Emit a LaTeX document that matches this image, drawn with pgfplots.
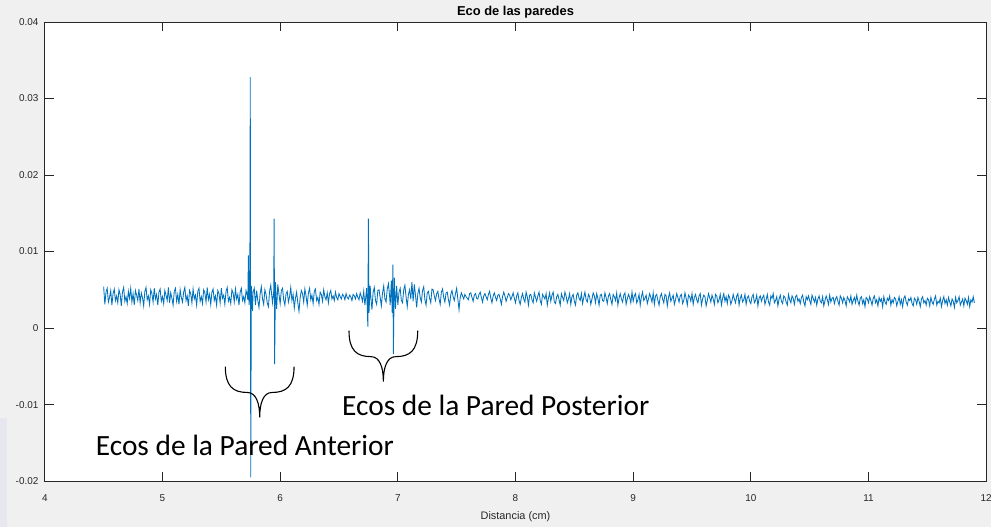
\documentclass[border=0pt]{standalone}
\usepackage{pgfplots}
\usepackage{pgfplotstable}
\pgfplotsset{compat=1.18}
\usepackage{fontspec}
\setmainfont{Liberation Sans}
\newfontfamily\notefont{Carlito}

\definecolor{figbg}{HTML}{F0F0F0}
\definecolor{edgebg}{HTML}{E7E7EF}
\definecolor{axgray}{HTML}{262626}
\definecolor{sig}{HTML}{0072BD}

% Echo amplitude versus depth
\pgfplotstableread{
x y
4.50 0.0054
4.51 0.0031
4.52 0.0047
4.53 0.0052
4.54 0.0034
4.55 0.0040
4.56 0.0049
4.57 0.0030
4.58 0.0045
4.59 0.0051
4.60 0.0036
4.61 0.0042
4.62 0.0033
4.63 0.0050
4.64 0.0044
4.65 0.0029
4.66 0.0047
4.67 0.0053
4.68 0.0035
4.69 0.0041
4.70 0.0032
4.71 0.0048
4.72 0.0039
4.73 0.0052
4.74 0.0034
4.75 0.0045
4.76 0.0030
4.77 0.0049
4.78 0.0043
4.79 0.0036
4.80 0.0051
4.81 0.0033
4.82 0.0046
4.83 0.0040
4.84 0.0029
4.85 0.0048
4.86 0.0053
4.87 0.0037
4.88 0.0042
4.89 0.0031
4.90 0.0050
4.91 0.0045
4.92 0.0034
4.93 0.0052
4.94 0.0038
4.95 0.0044
4.96 0.0030
4.97 0.0047
4.98 0.0051
4.99 0.0035
5.00 0.0041
5.01 0.0032
5.02 0.0049
5.03 0.0043
5.04 0.0036
5.05 0.0053
5.06 0.0033
5.07 0.0046
5.08 0.0039
5.09 0.0030
5.10 0.0048
5.11 0.0052
5.12 0.0035
5.13 0.0044
5.14 0.0031
5.15 0.0050
5.16 0.0040
5.17 0.0034
5.18 0.0047
5.19 0.0053
5.20 0.0036
5.21 0.0042
5.22 0.0029
5.23 0.0049
5.24 0.0045
5.25 0.0033
5.26 0.0051
5.27 0.0038
5.28 0.0043
5.29 0.0030
5.30 0.0048
5.31 0.0052
5.32 0.0035
5.33 0.0041
5.34 0.0032
5.35 0.0050
5.36 0.0046
5.37 0.0034
5.38 0.0053
5.39 0.0037
5.40 0.0044
5.41 0.0031
5.42 0.0047
5.43 0.0051
5.44 0.0036
5.45 0.0042
5.46 0.0030
5.47 0.0049
5.48 0.0045
5.49 0.0033
5.50 0.0052
5.51 0.0039
5.52 0.0043
5.53 0.0031
5.54 0.0048
5.55 0.0053
5.56 0.0035
5.57 0.0040
5.58 0.0032
5.59 0.0050
5.60 0.0046
5.61 0.0034
5.62 0.0051
5.63 0.0038
5.64 0.0044
5.65 0.0030
5.66 0.0047
5.67 0.0052
5.68 0.0036
5.69 0.0041
5.70 0.0033
5.71 0.0049
5.72 0.0043
5.725 0.0037
5.730 0.0095
5.735 0.0030
5.742 0.0040
5.746 0.0328
5.750 -0.0195
5.755 0.0055
5.760 0.0040
5.765 0.0022
5.77 0.0047
5.78 0.0052
5.79 0.0030
5.80 0.0049
5.81 0.0036
5.82 0.0027
5.83 0.0045
5.84 0.0054
5.85 0.0038
5.86 0.0031
5.87 0.0050
5.88 0.0044
5.89 0.0033
5.90 0.0028
5.91 0.0048
5.92 0.0056
5.93 0.0040
5.935 0.0033
5.945 0.0048
5.949 0.0143
5.953 -0.0047
5.960 0.0060
5.965 0.0041
5.97 0.0025
5.98 0.0057
5.99 0.0044
6.00 0.0032
6.01 0.0049
6.02 0.0052
6.03 0.0037
6.04 0.0030
6.05 0.0045
6.06 0.0048
6.07 0.0034
6.08 0.0041
6.09 0.0053
6.10 0.0036
6.11 0.0044
6.12 0.0026
6.13 0.0039
6.14 0.0047
6.15 0.0033
6.16 0.0022
6.17 0.0040
6.18 0.0049
6.19 0.0045
6.20 0.0034
6.21 0.0051
6.22 0.0042
6.23 0.0030
6.24 0.0046
6.25 0.0052
6.26 0.0037
6.27 0.0043
6.28 0.0032
6.29 0.0048
6.30 0.0051
6.31 0.0036
6.32 0.0040
6.33 0.0031
6.34 0.0047
6.35 0.0044
6.36 0.0035
6.37 0.0050
6.38 0.0041
6.39 0.0037
6.40 0.0046
6.41 0.0033
6.42 0.0045
6.43 0.0049
6.44 0.0038
6.45 0.0042
6.46 0.0036
6.47 0.0047
6.48 0.0040
6.49 0.0037
6.50 0.0045
6.51 0.0041
6.52 0.0038
6.53 0.0044
6.54 0.0042
6.55 0.0037
6.56 0.0045
6.57 0.0040
6.58 0.0038
6.59 0.0043
6.60 0.0041
6.61 0.0036
6.62 0.0044
6.63 0.0042
6.64 0.0038
6.65 0.0045
6.66 0.0040
6.67 0.0037
6.68 0.0046
6.69 0.0041
6.70 0.0035
6.71 0.0048
6.72 0.0030
6.73 0.0044
6.735 0.0052
6.745 0.0002
6.750 0.0143
6.755 0.0020
6.760 0.0038
6.765 0.0055
6.77 0.0042
6.78 0.0024
6.79 0.0047
6.80 0.0053
6.81 0.0036
6.82 0.0031
6.83 0.0049
6.84 0.0050
6.85 0.0040
6.86 0.0029
6.87 0.0046
6.88 0.0055
6.89 0.0038
6.90 0.0034
6.91 0.0051
6.92 0.0058
6.93 0.0042
6.935 0.0030
6.945 0.0062
6.952 0.0020
6.958 0.0083
6.962 -0.0034
6.970 0.0066
6.975 0.0045
6.98 0.0025
6.99 0.0055
7.00 0.0030
7.01 0.0047
7.02 0.0052
7.03 0.0036
7.04 0.0033
7.05 0.0050
7.06 0.0056
7.07 0.0041
7.08 0.0028
7.09 0.0044
7.10 0.0050
7.11 0.0038
7.12 0.0060
7.13 0.0035
7.14 0.0057
7.15 0.0043
7.16 0.0027
7.17 0.0045
7.18 0.0052
7.19 0.0040
7.20 0.0034
7.21 0.0049
7.22 0.0054
7.23 0.0037
7.24 0.0030
7.25 0.0046
7.26 0.0048
7.27 0.0039
7.28 0.0033
7.29 0.0051
7.30 0.0050
7.31 0.0042
7.32 0.0036
7.33 0.0045
7.34 0.0048
7.35 0.0038
7.36 0.0031
7.37 0.0047
7.38 0.0051
7.39 0.0040
7.40 0.0034
7.41 0.0046
7.42 0.0047
7.43 0.0037
7.44 0.0030
7.45 0.0044
7.46 0.0049
7.47 0.0041
7.48 0.0036
7.49 0.0045
7.50 0.0052
7.51 0.0038
7.52 0.0024
7.53 0.0040
7.54 0.0046
7.55 0.0042
7.56 0.0038
7.57 0.0044
7.58 0.0041
7.59 0.0039
7.60 0.0037
7.61 0.0045
7.62 0.0046
7.63 0.0040
7.64 0.0035
7.65 0.0043
7.66 0.0045
7.67 0.0039
7.68 0.0038
7.69 0.0044
7.70 0.0047
7.71 0.0040
7.72 0.0034
7.73 0.0042
7.74 0.0045
7.75 0.0041
7.76 0.0037
7.77 0.0044
7.78 0.0048
7.79 0.0039
7.80 0.0033
7.81 0.0042
7.82 0.0046
7.83 0.0040
7.84 0.0036
7.85 0.0043
7.86 0.0044
7.87 0.0038
7.88 0.0031
7.89 0.0041
7.90 0.0047
7.91 0.0042
7.92 0.0035
7.93 0.0040
7.94 0.0045
7.95 0.0043
7.96 0.0037
7.97 0.0041
7.98 0.0046
7.99 0.0039
8.00 0.0033
8.01 0.0042
8.02 0.0046
8.03 0.0036
8.04 0.0031
8.05 0.0040
8.06 0.0045
8.07 0.0038
8.08 0.0034
8.09 0.0047
8.10 0.0041
8.11 0.0030
8.12 0.0043
8.13 0.0044
8.14 0.0037
8.15 0.0033
8.16 0.0046
8.17 0.0040
8.18 0.0035
8.19 0.0042
8.20 0.0047
8.21 0.0036
8.22 0.0031
8.23 0.0044
8.24 0.0041
8.25 0.0038
8.26 0.0045
8.27 0.0030
8.28 0.0039
8.29 0.0046
8.30 0.0035
8.31 0.0043
8.32 0.0047
8.33 0.0034
8.34 0.0032
8.35 0.0041
8.36 0.0044
8.37 0.0037
8.38 0.0030
8.39 0.0045
8.40 0.0040
8.41 0.0036
8.42 0.0047
8.43 0.0042
8.44 0.0033
8.45 0.0038
8.46 0.0045
8.47 0.0031
8.48 0.0041
8.49 0.0044
8.50 0.0035
8.51 0.0030
8.52 0.0043
8.53 0.0046
8.54 0.0039
8.55 0.0036
8.56 0.0045
8.57 0.0032
8.58 0.0040
8.59 0.0047
8.60 0.0037
8.61 0.0034
8.62 0.0044
8.63 0.0041
8.64 0.0031
8.65 0.0038
8.66 0.0046
8.67 0.0042
8.68 0.0033
8.69 0.0045
8.70 0.0039
8.71 0.0030
8.72 0.0043
8.73 0.0044
8.74 0.0036
8.75 0.0035
8.76 0.0046
8.77 0.0040
8.78 0.0032
8.79 0.0042
8.80 0.0045
8.81 0.0037
8.82 0.0031
8.83 0.0044
8.84 0.0041
8.85 0.0036
8.86 0.0046
8.87 0.0030
8.88 0.0039
8.89 0.0045
8.90 0.0038
8.91 0.0034
8.92 0.0043
8.93 0.0046
8.94 0.0031
8.95 0.0038
8.96 0.0044
8.97 0.0040
8.98 0.0033
8.99 0.0047
9.00 0.0035
9.01 0.0042
9.02 0.0045
9.03 0.0033
9.04 0.0037
9.05 0.0044
9.06 0.0030
9.07 0.0041
9.08 0.0047
9.09 0.0036
9.10 0.0039
9.11 0.0043
9.12 0.0032
9.13 0.0038
9.14 0.0045
9.15 0.0040
9.16 0.0034
9.17 0.0046
9.18 0.0031
9.19 0.0042
9.20 0.0044
9.21 0.0036
9.22 0.0030
9.23 0.0041
9.24 0.0045
9.25 0.0038
9.26 0.0033
9.27 0.0044
9.28 0.0042
9.29 0.0029
9.30 0.0040
9.31 0.0046
9.32 0.0035
9.33 0.0039
9.34 0.0043
9.35 0.0031
9.36 0.0037
9.37 0.0045
9.38 0.0040
9.39 0.0034
9.40 0.0042
9.41 0.0044
9.42 0.0032
9.43 0.0036
9.44 0.0046
9.45 0.0039
9.46 0.0030
9.47 0.0043
9.48 0.0041
9.49 0.0035
9.50 0.0045
9.51 0.0031
9.52 0.0040
9.53 0.0044
9.54 0.0037
9.55 0.0033
9.56 0.0042
9.57 0.0045
9.58 0.0030
9.59 0.0038
9.60 0.0043
9.61 0.0041
9.62 0.0029
9.63 0.0036
9.64 0.0045
9.65 0.0040
9.66 0.0034
9.67 0.0043
9.68 0.0038
9.69 0.0031
9.70 0.0044
9.71 0.0042
9.72 0.0033
9.73 0.0037
9.74 0.0044
9.75 0.0030
9.76 0.0039
9.77 0.0045
9.78 0.0035
9.79 0.0041
9.80 0.0032
9.81 0.0043
9.82 0.0040
9.83 0.0031
9.84 0.0036
9.85 0.0044
9.86 0.0038
9.87 0.0033
9.88 0.0042
9.89 0.0045
9.90 0.0030
9.91 0.0039
9.92 0.0043
9.93 0.0034
9.94 0.0037
9.95 0.0044
9.96 0.0031
9.97 0.0040
9.98 0.0042
9.99 0.0035
10.00 0.0032
10.01 0.0041
10.02 0.0044
10.03 0.0033
10.04 0.0036
10.05 0.0043
10.06 0.0029
10.07 0.0039
10.08 0.0042
10.09 0.0035
10.10 0.0040
10.11 0.0043
10.12 0.0031
10.13 0.0037
10.14 0.0044
10.15 0.0034
10.16 0.0030
10.17 0.0042
10.18 0.0039
10.19 0.0045
10.20 0.0033
10.21 0.0036
10.22 0.0041
10.23 0.0029
10.24 0.0038
10.25 0.0043
10.26 0.0035
10.27 0.0032
10.28 0.0042
10.29 0.0040
10.30 0.0034
10.31 0.0030
10.32 0.0044
10.33 0.0037
10.34 0.0033
10.35 0.0042
10.36 0.0039
10.37 0.0031
10.38 0.0041
10.39 0.0043
10.40 0.0035
10.41 0.0038
10.42 0.0032
10.43 0.0040
10.44 0.0043
10.45 0.0034
10.46 0.0029
10.47 0.0041
10.48 0.0037
10.49 0.0042
10.50 0.0036
10.51 0.0031
10.52 0.0043
10.53 0.0039
10.54 0.0034
10.55 0.0040
10.56 0.0030
10.57 0.0038
10.58 0.0042
10.59 0.0035
10.60 0.0033
10.61 0.0041
10.62 0.0029
10.63 0.0036
10.64 0.0042
10.65 0.0037
10.66 0.0031
10.67 0.0043
10.68 0.0034
10.69 0.0039
10.70 0.0040
10.71 0.0032
10.72 0.0038
10.73 0.0041
10.74 0.0035
10.75 0.0030
10.76 0.0042
10.77 0.0039
10.78 0.0033
10.79 0.0040
10.80 0.0036
10.81 0.0029
10.82 0.0041
10.83 0.0038
10.84 0.0034
10.85 0.0042
10.86 0.0031
10.87 0.0036
10.88 0.0040
10.89 0.0033
10.90 0.0043
10.91 0.0035
10.92 0.0030
10.93 0.0039
10.94 0.0041
10.95 0.0032
10.96 0.0037
10.97 0.0028
10.98 0.0040
10.99 0.0038
11.00 0.0033
11.01 0.0041
11.02 0.0036
11.03 0.0030
11.04 0.0039
11.05 0.0042
11.06 0.0033
11.07 0.0037
11.08 0.0029
11.09 0.0040
11.10 0.0035
11.11 0.0038
11.12 0.0028
11.13 0.0041
11.14 0.0034
11.15 0.0031
11.16 0.0039
11.17 0.0036
11.18 0.0042
11.19 0.0030
11.20 0.0037
11.21 0.0033
11.22 0.0040
11.23 0.0038
11.24 0.0029
11.25 0.0035
11.26 0.0041
11.27 0.0031
11.28 0.0037
11.29 0.0028
11.30 0.0039
11.31 0.0042
11.32 0.0034
11.33 0.0030
11.34 0.0038
11.35 0.0036
11.36 0.0040
11.37 0.0032
11.38 0.0029
11.39 0.0039
11.40 0.0037
11.41 0.0031
11.42 0.0040
11.43 0.0035
11.44 0.0028
11.45 0.0038
11.46 0.0041
11.47 0.0033
11.48 0.0036
11.49 0.0030
11.50 0.0039
11.51 0.0037
11.52 0.0029
11.53 0.0040
11.54 0.0034
11.55 0.0031
11.56 0.0038
11.57 0.0042
11.58 0.0030
11.59 0.0035
11.60 0.0033
11.61 0.0039
11.62 0.0028
11.63 0.0036
11.64 0.0041
11.65 0.0032
11.66 0.0037
11.67 0.0030
11.68 0.0040
11.69 0.0034
11.70 0.0029
11.71 0.0038
11.72 0.0035
11.73 0.0027
11.74 0.0040
11.75 0.0033
11.76 0.0036
11.77 0.0041
11.78 0.0030
11.79 0.0034
11.80 0.0038
11.81 0.0029
11.82 0.0039
11.83 0.0036
11.84 0.0031
11.85 0.0040
11.86 0.0028
11.87 0.0037
11.88 0.0034
11.89 0.0041
11.90 0.0033
}\echo

\begin{document}
\begin{tikzpicture}
% figure background (axis box lower-left corner sits at the origin)
\fill[figbg] (-45bp,-46bp) rectangle (950bp,483bp);
\fill[edgebg] (-45bp,-46bp) rectangle (-38bp,63bp);
\begin{axis}[
  scale only axis,
  width=945bp, height=461bp,
  xmin=4, xmax=12, ymin=-0.02, ymax=0.04,
  xtick={4,5,...,12},
  xticklabels={4,5,6,7,8,9,10,11,12},
  ytick={-0.02,-0.01,0,0.01,0.02,0.03,0.04},
  yticklabels={-0.02,-0.01,0,0.01,0.02,0.03,0.04},
  scaled y ticks=false,
  /pgf/number format/assume math mode=true,
  tick align=inside,
  major tick length=9bp,
  tick style={color=axgray, line width=0.7bp},
  axis line style={color=axgray, line width=0.8bp},
  axis background/.style={fill=white},
  ticklabel style={font=\fontsize{10}{12}\selectfont, color=axgray},
  yticklabel style={xshift=-3bp},
  xticklabel style={yshift=-10bp},
  xlabel={Distancia (cm)},
  xlabel style={font=\fontsize{11}{13}\selectfont, color=axgray, yshift=-3bp},
  title={Eco de las paredes},
  title style={font=\bfseries\fontsize{13}{15}\selectfont, color=black, yshift=-6bp},
  clip=true,
]
\addplot[sig, line width=0.85bp] table[x=x, y=y] {\echo};

% anchor points for the braces and their captions
\coordinate (braceA) at (axis cs:5.534,-0.00503);
\coordinate (braceP) at (axis cs:6.585,-0.00035);
\coordinate (textA) at (axis cs:4.432,-0.01662);
\coordinate (textP) at (axis cs:6.525,-0.01141);
\end{axis}

% curly braces under the two groups of echoes
\foreach \c in {braceA, braceP} {
  \draw[black, line width=1.1bp] (\c)
    .. controls +(0,-20bp) and +(-14bp,0bp) .. ++(22bp,-26bp)
    .. controls +(9bp,0bp) and +(0,14bp) .. ++(12.5bp,-25bp)
    .. controls +(0,14bp) and +(-9bp,0bp) .. ++(12.5bp,25bp)
    .. controls +(14bp,0bp) and +(0,-20bp) .. ++(22bp,26bp);
}

\node[anchor=base west, inner sep=0pt, font=\notefont\fontsize{29.6}{33}\selectfont]
  at (textA) {Ecos de la Pared Anterior};
\node[anchor=base west, inner sep=0pt, font=\notefont\fontsize{29.6}{33}\selectfont]
  at (textP) {Ecos de la Pared Posterior};
\end{tikzpicture}
\end{document}
